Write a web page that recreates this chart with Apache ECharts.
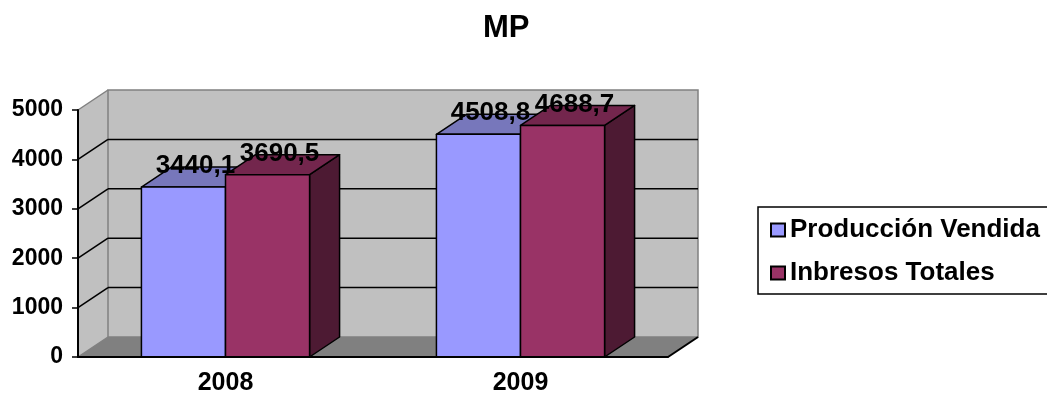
<!DOCTYPE html>
<html>
<head>
<meta charset="utf-8">
<script src="https://cdn.jsdelivr.net/npm/echarts@6/dist/echarts.min.js"></script>
<style>
html, body { margin: 0; padding: 0; background: #fff; }
#chart { width: 1047px; height: 397px; }
</style>
</head>
<body>
<div id="chart"></div>
<script>
var categories = ['2008', '2009'];
var seriesNames = ['Producción Vendida', 'Inbresos Totales'];
var produccion = [3440.1, 4508.8];
var ingresos = [3690.5, 4688.7];
var yTicks = [0, 1000, 2000, 3000, 4000, 5000];

var FONT = 'Liberation Sans, Arial, sans-serif';
var DX = 30, DY = -20; // profundidad 3D

// colores: frente, tapa, lado
var faces = [
    ['#9999ff', '#7777bb', '#4d4d80'],
    ['#993366', '#73264d', '#4d1a33']
];

function fmt(v) {
    return String(v).replace('.', ',');
}

// paredes y piso
function renderFrame(params, api) {
    var cs = params.coordSys;
    var x0 = cs.x, x1 = cs.x + cs.width;
    var y0 = api.coord([0, 0])[1];
    var y5 = api.coord([0, yTicks[yTicks.length - 1]])[1];
    var kids = [];
    kids.push({
        type: 'polygon',
        shape: { points: [[x0, y0], [x0 + DX, y0 + DY], [x0 + DX, y5 + DY], [x0, y5]] },
        style: { fill: '#c0c0c0', stroke: null }
    });
    kids.push({
        type: 'rect',
        shape: { x: x0 + DX, y: y5 + DY, width: x1 - x0, height: y0 - y5 },
        style: { fill: '#c0c0c0', stroke: '#808080', lineWidth: 1.5 }
    });
    kids.push({
        type: 'polygon',
        shape: { points: [[x0, y0], [x1, y0], [x1 + DX, y0 + DY], [x0 + DX, y0 + DY]] },
        style: { fill: '#808080', stroke: null }
    });
    for (var i = 1; i < yTicks.length - 1; i++) {
        var y = api.coord([0, yTicks[i]])[1];
        kids.push({
            type: 'line',
            shape: { x1: x0 + DX, y1: y + DY, x2: x1 + DX, y2: y + DY },
            style: { stroke: '#000', lineWidth: 1.5 }
        });
        kids.push({
            type: 'line',
            shape: { x1: x0, y1: y, x2: x0 + DX, y2: y + DY },
            style: { stroke: '#000', lineWidth: 1.5 }
        });
    }
    kids.push({
        type: 'line',
        shape: { x1: x0, y1: y5, x2: x0 + DX, y2: y5 + DY },
        style: { stroke: '#808080', lineWidth: 1.5 }
    });
    kids.push({
        type: 'line',
        shape: { x1: x0, y1: y0, x2: x0 + DX, y2: y0 + DY },
        style: { stroke: '#808080', lineWidth: 1.5 }
    });
    kids.push({
        type: 'line',
        shape: { x1: x1, y1: y0, x2: x1 + DX, y2: y0 + DY },
        style: { stroke: '#000', lineWidth: 2 }
    });
    return { type: 'group', children: kids };
}

function makeBarRender(slot) {
    return function (params, api) {
        var idx = api.value(0);
        var top = api.coord([idx, api.value(1)]);
        var base = api.coord([idx, 0]);
        var band = api.size([1, 0])[0];
        var w = band * 0.285;
        var xa = top[0] + (slot - 1) * w;
        var xb = xa + w;
        var yt = top[1], yb = base[1];
        var c = faces[slot];
        var st = { stroke: '#000', lineWidth: 1.5, lineJoin: 'round' };
        return {
            type: 'group',
            children: [
                {
                    type: 'polygon', z2: slot * 10 + 1,
                    shape: { points: [[xb, yb], [xb + DX, yb + DY], [xb + DX, yt + DY], [xb, yt]] },
                    style: Object.assign({ fill: c[2] }, st)
                },
                {
                    type: 'polygon', z2: slot * 10 + 2,
                    shape: { points: [[xa, yt], [xb, yt], [xb + DX, yt + DY], [xa + DX, yt + DY]] },
                    style: Object.assign({ fill: c[1] }, st)
                },
                {
                    type: 'rect', z2: slot * 10 + 3,
                    shape: { x: xa, y: yt, width: w, height: yb - yt },
                    style: Object.assign({ fill: c[0] }, st)
                },
                {
                    type: 'text', z2: 100,
                    style: {
                        text: fmt(api.value(1)),
                        x: (xa + xb) / 2 + 12, y: yt - 21,
                        align: 'center', verticalAlign: 'middle',
                        fill: '#000', font: 'bold 26px ' + FONT
                    }
                }
            ]
        };
    };
}

function toPairs(vals) {
    return vals.map(function (v, i) { return [i, v]; });
}

var chart = echarts.init(document.getElementById('chart'));
var option = {
    backgroundColor: '#fff',
    animation: false,
    title: {
        text: 'MP',
        left: 483, top: 13, padding: 0,
        textStyle: { fontFamily: FONT, fontWeight: 'bold', fontSize: 31, color: '#000' }
    },
    legend: {
        orient: 'vertical',
        left: 758, top: 207,
        padding: [10, 60, 8, 12],
        borderColor: '#000', borderWidth: 1.5,
        itemWidth: 14, itemHeight: 13, itemGap: 17,
        icon: 'rect',
        data: seriesNames,
        textStyle: { fontFamily: FONT, fontWeight: 'bold', fontSize: 26, color: '#000', lineHeight: 26 }
    },
    grid: { left: 78, right: 379, top: 110, bottom: 40 },
    xAxis: {
        type: 'category',
        data: categories,
        z: 10,
        axisLine: { lineStyle: { color: '#000', width: 2 } },
        axisTick: { length: 6, lineStyle: { color: '#000', width: 1.5 } },
        axisLabel: { margin: 14, color: '#000', fontFamily: FONT, fontWeight: 'bold', fontSize: 25 },
        splitLine: { show: false }
    },
    yAxis: {
        type: 'value',
        min: 0, max: 5000, interval: 1000,
        z: 10,
        axisLine: { show: true, lineStyle: { color: '#000', width: 2 } },
        axisTick: { show: true, length: 6, lineStyle: { color: '#000', width: 1.5 } },
        axisLabel: {
            margin: 15, color: '#000', fontFamily: FONT, fontWeight: 'bold', fontSize: 23,
            formatter: function (v) { return String(v); }
        },
        splitLine: { show: false }
    },
    series: [
        {
            name: 'frame', type: 'custom', z: 1, silent: true,
            renderItem: renderFrame,
            data: [[0, 0]],
            clip: false
        },
        {
            name: seriesNames[0], type: 'custom', z: 2,
            renderItem: makeBarRender(0),
            itemStyle: { color: faces[0][0], borderColor: '#000', borderWidth: 1.5 },
            data: toPairs(produccion),
            clip: false
        },
        {
            name: seriesNames[1], type: 'custom', z: 2,
            renderItem: makeBarRender(1),
            itemStyle: { color: faces[1][0], borderColor: '#000', borderWidth: 1.5 },
            data: toPairs(ingresos),
            clip: false
        }
    ]
};
chart.setOption(option);
</script>
</body>
</html>
